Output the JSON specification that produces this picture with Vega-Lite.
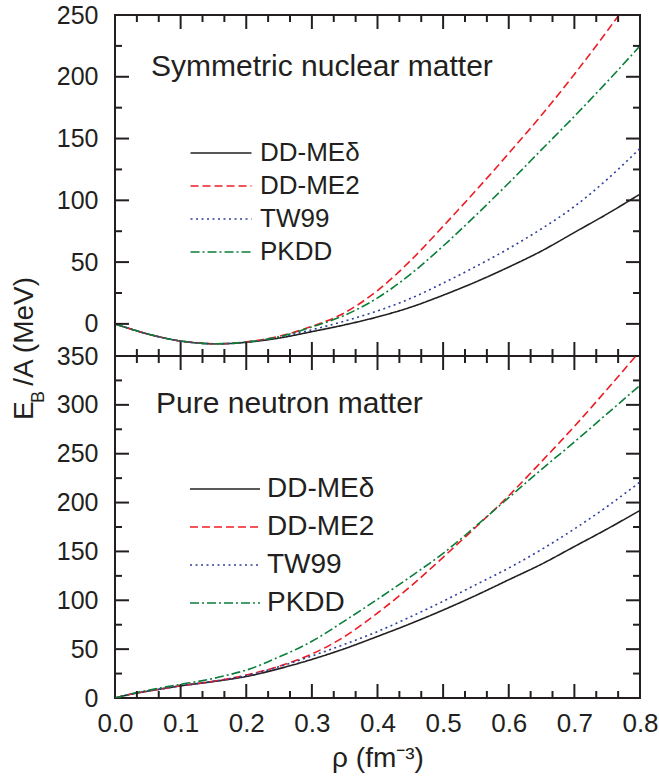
{
  "$schema": "https://vega.github.io/schema/vega-lite/v6.json",
  "padding": {"left": 11, "top": 2, "right": 0, "bottom": 0},
  "background": "white",
  "title": {
    "text": "E\u00a0\u00a0/A (MeV)",
    "orient": "left",
    "anchor": "middle",
    "font": "Liberation Sans",
    "fontSize": 28,
    "fontWeight": "normal",
    "color": "#231f20",
    "offset": -10,
    "dx": 39
  },
  "datasets": {
    "snm": [
      {"r":0,"e":0,"m":"DD-MEδ"},{"r":0.025,"e":-4.3,"m":"DD-MEδ"},{"r":0.05,"e":-8.2,"m":"DD-MEδ"},{"r":0.075,"e":-11.4,"m":"DD-MEδ"},{"r":0.1,"e":-13.9,"m":"DD-MEδ"},{"r":0.125,"e":-15.4,"m":"DD-MEδ"},{"r":0.15,"e":-16.1,"m":"DD-MEδ"},{"r":0.175,"e":-15.9,"m":"DD-MEδ"},{"r":0.2,"e":-14.9,"m":"DD-MEδ"},{"r":0.25,"e":-11.5,"m":"DD-MEδ"},{"r":0.3,"e":-6.3,"m":"DD-MEδ"},{"r":0.35,"e":-0.8,"m":"DD-MEδ"},{"r":0.4,"e":5.6,"m":"DD-MEδ"},{"r":0.45,"e":13.4,"m":"DD-MEδ"},{"r":0.5,"e":23.2,"m":"DD-MEδ"},{"r":0.55,"e":34,"m":"DD-MEδ"},{"r":0.6,"e":46,"m":"DD-MEδ"},{"r":0.65,"e":59,"m":"DD-MEδ"},{"r":0.7,"e":74,"m":"DD-MEδ"},{"r":0.75,"e":89,"m":"DD-MEδ"},{"r":0.8,"e":105,"m":"DD-MEδ"},
      {"r":0,"e":0,"m":"DD-ME2"},{"r":0.025,"e":-4.3,"m":"DD-ME2"},{"r":0.05,"e":-8.2,"m":"DD-ME2"},{"r":0.075,"e":-11.4,"m":"DD-ME2"},{"r":0.1,"e":-13.9,"m":"DD-ME2"},{"r":0.125,"e":-15.4,"m":"DD-ME2"},{"r":0.15,"e":-16.1,"m":"DD-ME2"},{"r":0.175,"e":-15.8,"m":"DD-ME2"},{"r":0.2,"e":-14.6,"m":"DD-ME2"},{"r":0.25,"e":-10,"m":"DD-ME2"},{"r":0.3,"e":-2,"m":"DD-ME2"},{"r":0.35,"e":9,"m":"DD-ME2"},{"r":0.4,"e":27,"m":"DD-ME2"},{"r":0.45,"e":51,"m":"DD-ME2"},{"r":0.5,"e":79,"m":"DD-ME2"},{"r":0.55,"e":108,"m":"DD-ME2"},{"r":0.6,"e":138,"m":"DD-ME2"},{"r":0.65,"e":169,"m":"DD-ME2"},{"r":0.7,"e":202,"m":"DD-ME2"},{"r":0.75,"e":237,"m":"DD-ME2"},{"r":0.8,"e":274,"m":"DD-ME2"},
      {"r":0,"e":0,"m":"TW99"},{"r":0.025,"e":-4.3,"m":"TW99"},{"r":0.05,"e":-8.2,"m":"TW99"},{"r":0.075,"e":-11.4,"m":"TW99"},{"r":0.1,"e":-13.9,"m":"TW99"},{"r":0.125,"e":-15.4,"m":"TW99"},{"r":0.15,"e":-16.1,"m":"TW99"},{"r":0.175,"e":-15.9,"m":"TW99"},{"r":0.2,"e":-14.8,"m":"TW99"},{"r":0.25,"e":-10.8,"m":"TW99"},{"r":0.3,"e":-4.8,"m":"TW99"},{"r":0.35,"e":2.3,"m":"TW99"},{"r":0.4,"e":10.5,"m":"TW99"},{"r":0.45,"e":20.5,"m":"TW99"},{"r":0.5,"e":33,"m":"TW99"},{"r":0.55,"e":46.5,"m":"TW99"},{"r":0.6,"e":61,"m":"TW99"},{"r":0.65,"e":77,"m":"TW99"},{"r":0.7,"e":95,"m":"TW99"},{"r":0.75,"e":117,"m":"TW99"},{"r":0.8,"e":142,"m":"TW99"},
      {"r":0,"e":0,"m":"PKDD"},{"r":0.025,"e":-4.3,"m":"PKDD"},{"r":0.05,"e":-8.2,"m":"PKDD"},{"r":0.075,"e":-11.4,"m":"PKDD"},{"r":0.1,"e":-13.9,"m":"PKDD"},{"r":0.125,"e":-15.4,"m":"PKDD"},{"r":0.15,"e":-16.1,"m":"PKDD"},{"r":0.175,"e":-15.8,"m":"PKDD"},{"r":0.2,"e":-14.7,"m":"PKDD"},{"r":0.25,"e":-10.5,"m":"PKDD"},{"r":0.3,"e":-2.5,"m":"PKDD"},{"r":0.35,"e":7,"m":"PKDD"},{"r":0.4,"e":21,"m":"PKDD"},{"r":0.45,"e":40,"m":"PKDD"},{"r":0.5,"e":63,"m":"PKDD"},{"r":0.55,"e":88,"m":"PKDD"},{"r":0.6,"e":114,"m":"PKDD"},{"r":0.65,"e":141,"m":"PKDD"},{"r":0.7,"e":168,"m":"PKDD"},{"r":0.75,"e":196,"m":"PKDD"},{"r":0.8,"e":225,"m":"PKDD"}
    ],
    "pnm": [
      {"r":0,"e":0,"m":"DD-MEδ"},{"r":0.025,"e":4,"m":"DD-MEδ"},{"r":0.05,"e":7,"m":"DD-MEδ"},{"r":0.075,"e":9.8,"m":"DD-MEδ"},{"r":0.1,"e":12.4,"m":"DD-MEδ"},{"r":0.125,"e":14.6,"m":"DD-MEδ"},{"r":0.15,"e":16.8,"m":"DD-MEδ"},{"r":0.175,"e":19.2,"m":"DD-MEδ"},{"r":0.2,"e":22,"m":"DD-MEδ"},{"r":0.25,"e":30,"m":"DD-MEδ"},{"r":0.3,"e":39.5,"m":"DD-MEδ"},{"r":0.35,"e":50.5,"m":"DD-MEδ"},{"r":0.4,"e":63,"m":"DD-MEδ"},{"r":0.45,"e":76,"m":"DD-MEδ"},{"r":0.5,"e":90,"m":"DD-MEδ"},{"r":0.55,"e":105,"m":"DD-MEδ"},{"r":0.6,"e":121,"m":"DD-MEδ"},{"r":0.65,"e":137,"m":"DD-MEδ"},{"r":0.7,"e":155,"m":"DD-MEδ"},{"r":0.75,"e":173,"m":"DD-MEδ"},{"r":0.8,"e":192,"m":"DD-MEδ"},
      {"r":0,"e":0,"m":"DD-ME2"},{"r":0.025,"e":4,"m":"DD-ME2"},{"r":0.05,"e":7,"m":"DD-ME2"},{"r":0.075,"e":9.8,"m":"DD-ME2"},{"r":0.1,"e":12.5,"m":"DD-ME2"},{"r":0.125,"e":14.8,"m":"DD-ME2"},{"r":0.15,"e":17.2,"m":"DD-ME2"},{"r":0.175,"e":20,"m":"DD-ME2"},{"r":0.2,"e":23.5,"m":"DD-ME2"},{"r":0.25,"e":32.5,"m":"DD-ME2"},{"r":0.3,"e":45,"m":"DD-ME2"},{"r":0.35,"e":63,"m":"DD-ME2"},{"r":0.4,"e":87,"m":"DD-ME2"},{"r":0.45,"e":114,"m":"DD-ME2"},{"r":0.5,"e":144,"m":"DD-ME2"},{"r":0.55,"e":175,"m":"DD-ME2"},{"r":0.6,"e":207,"m":"DD-ME2"},{"r":0.65,"e":242,"m":"DD-ME2"},{"r":0.7,"e":278,"m":"DD-ME2"},{"r":0.75,"e":316,"m":"DD-ME2"},{"r":0.8,"e":355,"m":"DD-ME2"},
      {"r":0,"e":0,"m":"TW99"},{"r":0.025,"e":4,"m":"TW99"},{"r":0.05,"e":7,"m":"TW99"},{"r":0.075,"e":9.8,"m":"TW99"},{"r":0.1,"e":12.5,"m":"TW99"},{"r":0.125,"e":14.8,"m":"TW99"},{"r":0.15,"e":17.2,"m":"TW99"},{"r":0.175,"e":19.8,"m":"TW99"},{"r":0.2,"e":23,"m":"TW99"},{"r":0.25,"e":32,"m":"TW99"},{"r":0.3,"e":43,"m":"TW99"},{"r":0.35,"e":55,"m":"TW99"},{"r":0.4,"e":68,"m":"TW99"},{"r":0.45,"e":83,"m":"TW99"},{"r":0.5,"e":99,"m":"TW99"},{"r":0.55,"e":116,"m":"TW99"},{"r":0.6,"e":133,"m":"TW99"},{"r":0.65,"e":152,"m":"TW99"},{"r":0.7,"e":173,"m":"TW99"},{"r":0.75,"e":196,"m":"TW99"},{"r":0.8,"e":221,"m":"TW99"},
      {"r":0,"e":0,"m":"PKDD"},{"r":0.025,"e":4.3,"m":"PKDD"},{"r":0.05,"e":7.8,"m":"PKDD"},{"r":0.075,"e":11,"m":"PKDD"},{"r":0.1,"e":14,"m":"PKDD"},{"r":0.125,"e":16.8,"m":"PKDD"},{"r":0.15,"e":20,"m":"PKDD"},{"r":0.175,"e":24,"m":"PKDD"},{"r":0.2,"e":28.5,"m":"PKDD"},{"r":0.25,"e":42,"m":"PKDD"},{"r":0.3,"e":58,"m":"PKDD"},{"r":0.35,"e":79,"m":"PKDD"},{"r":0.4,"e":101,"m":"PKDD"},{"r":0.45,"e":124,"m":"PKDD"},{"r":0.5,"e":148,"m":"PKDD"},{"r":0.55,"e":176,"m":"PKDD"},{"r":0.6,"e":205,"m":"PKDD"},{"r":0.65,"e":234,"m":"PKDD"},{"r":0.7,"e":262,"m":"PKDD"},{"r":0.75,"e":291,"m":"PKDD"},{"r":0.8,"e":320,"m":"PKDD"}
    ]
  },
  "spacing": 0,
  "bounds": "flush",
  "vconcat": [
    {
      "width": 525,
      "height": 341,
      "layer": [
        {
          "data": {"name": "snm"},
          "mark": {"type": "line", "clip": true, "strokeWidth": 1.6, "interpolate": "monotone"},
          "encoding": {
            "x": {"field": "r", "type": "quantitative", "scale": {"domain": [0, 0.8], "nice": false, "zero": false},
                  "axis": {"orient": "bottom", "values": [0,0.1,0.2,0.3,0.4,0.5,0.6,0.7,0.8], "labels": false, "ticks": false, "domain": false, "grid": false, "title": null}},
            "y": {"field": "e", "type": "quantitative", "scale": {"domain": [-26, 250], "nice": false, "zero": false},
                  "axis": {"orient": "left", "values": [0,50,100,150,200,250], "ticks": false, "domain": false, "grid": false, "labelPadding": 17, "title": null}},
            "color": {"field": "m", "type": "nominal",
                      "scale": {"domain": ["DD-MEδ","DD-ME2","TW99","PKDD"], "range": ["#231f20","#ed1c24","#2e3f9e","#0b7e3a"]},
                      "legend": {"orient": "none", "legendX": 93, "legendY": 125, "title": null, "symbolType": "M-3,0H3", "symbolSize": 413, "symbolStrokeWidth": 1.6, "labelFont": "Liberation Sans", "labelFontSize": 26, "labelColor": "#231f20", "labelOffset": 26, "rowPadding": 7, "padding": 0}},
            "strokeDash": {"field": "m", "type": "nominal",
                      "scale": {"domain": ["DD-MEδ","DD-ME2","TW99","PKDD"], "range": [[1,0],[8,4],[2,3.5],[9,3,2,3]]},
                      "legend": {"orient": "none", "legendX": 93, "legendY": 125, "title": null, "symbolType": "M-3,0H3", "symbolSize": 413, "symbolStrokeWidth": 1.6, "labelFont": "Liberation Sans", "labelFontSize": 26, "labelColor": "#231f20", "labelOffset": 26, "rowPadding": 7, "padding": 0}}
          }
        },
        {
          "data": {"values": [{"v":0.1},{"v":0.2},{"v":0.3},{"v":0.4},{"v":0.5},{"v":0.6},{"v":0.7}]},
          "layer": [
            {"mark": {"type": "rule", "strokeWidth": 2, "color": "#231f20"},
             "encoding": {"x": {"field": "v", "type": "quantitative", "scale": {"domain": [0, 0.8], "nice": false, "zero": false}, "axis": null},
                          "y": {"datum": -26, "type": "quantitative", "scale": {"domain": [-26, 250], "nice": false, "zero": false}, "axis": null},
                          "y2": {"datum": -14.67}}},
            {"mark": {"type": "rule", "strokeWidth": 2, "color": "#231f20"},
             "encoding": {"x": {"field": "v", "type": "quantitative", "scale": {"domain": [0, 0.8], "nice": false, "zero": false}, "axis": null},
                          "y": {"datum": 250, "type": "quantitative", "scale": {"domain": [-26, 250], "nice": false, "zero": false}, "axis": null},
                          "y2": {"datum": 238.67}}}
          ]
        },
        {
          "data": {"values": [{"v":0.033333},{"v":0.066667},{"v":0.133333},{"v":0.166667},{"v":0.233333},{"v":0.266667},{"v":0.333333},{"v":0.366667},{"v":0.433333},{"v":0.466667},{"v":0.533333},{"v":0.566667},{"v":0.633333},{"v":0.666667},{"v":0.733333},{"v":0.766667}]},
          "layer": [
            {"mark": {"type": "rule", "strokeWidth": 2, "color": "#231f20"},
             "encoding": {"x": {"field": "v", "type": "quantitative", "scale": {"domain": [0, 0.8], "nice": false, "zero": false}, "axis": null},
                          "y": {"datum": -26, "type": "quantitative", "scale": {"domain": [-26, 250], "nice": false, "zero": false}, "axis": null},
                          "y2": {"datum": -20.33}}},
            {"mark": {"type": "rule", "strokeWidth": 2, "color": "#231f20"},
             "encoding": {"x": {"field": "v", "type": "quantitative", "scale": {"domain": [0, 0.8], "nice": false, "zero": false}, "axis": null},
                          "y": {"datum": 250, "type": "quantitative", "scale": {"domain": [-26, 250], "nice": false, "zero": false}, "axis": null},
                          "y2": {"datum": 244.33}}}
          ]
        },
        {
          "data": {"values": [{"v":0},{"v":50},{"v":100},{"v":150},{"v":200}]},
          "layer": [
            {"mark": {"type": "rule", "strokeWidth": 2, "color": "#231f20"},
             "encoding": {"y": {"field": "v", "type": "quantitative", "scale": {"domain": [-26, 250], "nice": false, "zero": false}, "axis": null},
                          "x": {"datum": 0, "type": "quantitative", "scale": {"domain": [0, 0.8], "nice": false, "zero": false}, "axis": null},
                          "x2": {"datum": 0.02133}}},
            {"mark": {"type": "rule", "strokeWidth": 2, "color": "#231f20"},
             "encoding": {"y": {"field": "v", "type": "quantitative", "scale": {"domain": [-26, 250], "nice": false, "zero": false}, "axis": null},
                          "x": {"datum": 0.8, "type": "quantitative", "scale": {"domain": [0, 0.8], "nice": false, "zero": false}, "axis": null},
                          "x2": {"datum": 0.77867}}}
          ]
        },
        {
          "data": {"values": [{"v":25},{"v":75},{"v":125},{"v":175},{"v":225}]},
          "layer": [
            {"mark": {"type": "rule", "strokeWidth": 2, "color": "#231f20"},
             "encoding": {"y": {"field": "v", "type": "quantitative", "scale": {"domain": [-26, 250], "nice": false, "zero": false}, "axis": null},
                          "x": {"datum": 0, "type": "quantitative", "scale": {"domain": [0, 0.8], "nice": false, "zero": false}, "axis": null},
                          "x2": {"datum": 0.01067}}},
            {"mark": {"type": "rule", "strokeWidth": 2, "color": "#231f20"},
             "encoding": {"y": {"field": "v", "type": "quantitative", "scale": {"domain": [-26, 250], "nice": false, "zero": false}, "axis": null},
                          "x": {"datum": 0.8, "type": "quantitative", "scale": {"domain": [0, 0.8], "nice": false, "zero": false}, "axis": null},
                          "x2": {"datum": 0.78933}}}
          ]
        },
        {
          "data": {"values": [{"t": "Symmetric nuclear matter"}]},
          "mark": {"type": "text", "align": "left", "baseline": "alphabetic", "font": "Liberation Sans", "fontSize": 30, "color": "#231f20"},
          "encoding": {
            "text": {"field": "t"},
            "x": {"datum": 0.055, "type": "quantitative", "scale": {"domain": [0, 0.8], "nice": false, "zero": false}, "axis": null},
            "y": {"datum": 201, "type": "quantitative", "scale": {"domain": [-26, 250], "nice": false, "zero": false}, "axis": null}
          }
        }
      ],
      "resolve": {"axis": {"x": "independent", "y": "independent"}}
    },
    {
      "width": 525,
      "height": 342,
      "title": {"text": "B", "orient": "left", "anchor": "middle", "frame": "group", "font": "Liberation Sans", "fontSize": 18, "fontWeight": "normal", "color": "#231f20", "offset": 8, "dx": 130},
      "layer": [
        {
          "data": {"name": "pnm"},
          "mark": {"type": "line", "clip": true, "strokeWidth": 1.6, "interpolate": "monotone"},
          "encoding": {
            "x": {"field": "r", "type": "quantitative", "scale": {"domain": [0, 0.8], "nice": false, "zero": false},
                  "axis": {"orient": "bottom", "values": [0,0.1,0.2,0.3,0.4,0.5,0.6,0.7,0.8], "format": ".1f",
                           "ticks": false, "domain": false, "grid": false, "labelPadding": 12, "labelFontSize": 26,
                           "title": "ρ (fm⁻³)", "titleFontSize": 28, "titlePadding": 8}},
            "y": {"field": "e", "type": "quantitative", "scale": {"domain": [0, 350], "nice": false, "zero": false},
                  "axis": {"orient": "left", "values": [0,50,100,150,200,250,300,350], "ticks": false, "domain": false, "grid": false, "labelPadding": 17, "title": null}},
            "color": {"field": "m", "type": "nominal",
                      "scale": {"domain": ["DD-MEδ","DD-ME2","TW99","PKDD"], "range": ["#231f20","#ed1c24","#2e3f9e","#0b7e3a"]},
                      "legend": {"orient": "none", "legendX": 96, "legendY": 119, "title": null, "symbolType": "M-3,0H3", "symbolSize": 544, "symbolStrokeWidth": 1.6, "labelFont": "Liberation Sans", "labelFontSize": 28, "labelColor": "#231f20", "labelOffset": 28, "rowPadding": 10, "padding": 0}},
            "strokeDash": {"field": "m", "type": "nominal",
                      "scale": {"domain": ["DD-MEδ","DD-ME2","TW99","PKDD"], "range": [[1,0],[8,4],[2,3.5],[9,3,2,3]]},
                      "legend": {"orient": "none", "legendX": 96, "legendY": 119, "title": null, "symbolType": "M-3,0H3", "symbolSize": 544, "symbolStrokeWidth": 1.6, "labelFont": "Liberation Sans", "labelFontSize": 28, "labelColor": "#231f20", "labelOffset": 28, "rowPadding": 10, "padding": 0}}
          }
        },
        {
          "data": {"values": [{"v":0.1},{"v":0.2},{"v":0.3},{"v":0.4},{"v":0.5},{"v":0.6},{"v":0.7}]},
          "layer": [
            {"mark": {"type": "rule", "strokeWidth": 2, "color": "#231f20"},
             "encoding": {"x": {"field": "v", "type": "quantitative", "scale": {"domain": [0, 0.8], "nice": false, "zero": false}, "axis": null},
                          "y": {"datum": 0, "type": "quantitative", "scale": {"domain": [0, 350], "nice": false, "zero": false}, "axis": null},
                          "y2": {"datum": 14.33}}},
            {"mark": {"type": "rule", "strokeWidth": 2, "color": "#231f20"},
             "encoding": {"x": {"field": "v", "type": "quantitative", "scale": {"domain": [0, 0.8], "nice": false, "zero": false}, "axis": null},
                          "y": {"datum": 350, "type": "quantitative", "scale": {"domain": [0, 350], "nice": false, "zero": false}, "axis": null},
                          "y2": {"datum": 335.67}}}
          ]
        },
        {
          "data": {"values": [{"v":0.033333},{"v":0.066667},{"v":0.133333},{"v":0.166667},{"v":0.233333},{"v":0.266667},{"v":0.333333},{"v":0.366667},{"v":0.433333},{"v":0.466667},{"v":0.533333},{"v":0.566667},{"v":0.633333},{"v":0.666667},{"v":0.733333},{"v":0.766667}]},
          "layer": [
            {"mark": {"type": "rule", "strokeWidth": 2, "color": "#231f20"},
             "encoding": {"x": {"field": "v", "type": "quantitative", "scale": {"domain": [0, 0.8], "nice": false, "zero": false}, "axis": null},
                          "y": {"datum": 0, "type": "quantitative", "scale": {"domain": [0, 350], "nice": false, "zero": false}, "axis": null},
                          "y2": {"datum": 7.16}}},
            {"mark": {"type": "rule", "strokeWidth": 2, "color": "#231f20"},
             "encoding": {"x": {"field": "v", "type": "quantitative", "scale": {"domain": [0, 0.8], "nice": false, "zero": false}, "axis": null},
                          "y": {"datum": 350, "type": "quantitative", "scale": {"domain": [0, 350], "nice": false, "zero": false}, "axis": null},
                          "y2": {"datum": 342.84}}}
          ]
        },
        {
          "data": {"values": [{"v":50},{"v":100},{"v":150},{"v":200},{"v":250},{"v":300}]},
          "layer": [
            {"mark": {"type": "rule", "strokeWidth": 2, "color": "#231f20"},
             "encoding": {"y": {"field": "v", "type": "quantitative", "scale": {"domain": [0, 350], "nice": false, "zero": false}, "axis": null},
                          "x": {"datum": 0, "type": "quantitative", "scale": {"domain": [0, 0.8], "nice": false, "zero": false}, "axis": null},
                          "x2": {"datum": 0.02133}}},
            {"mark": {"type": "rule", "strokeWidth": 2, "color": "#231f20"},
             "encoding": {"y": {"field": "v", "type": "quantitative", "scale": {"domain": [0, 350], "nice": false, "zero": false}, "axis": null},
                          "x": {"datum": 0.8, "type": "quantitative", "scale": {"domain": [0, 0.8], "nice": false, "zero": false}, "axis": null},
                          "x2": {"datum": 0.77867}}}
          ]
        },
        {
          "data": {"values": [{"v":25},{"v":75},{"v":125},{"v":175},{"v":225},{"v":275},{"v":325}]},
          "layer": [
            {"mark": {"type": "rule", "strokeWidth": 2, "color": "#231f20"},
             "encoding": {"y": {"field": "v", "type": "quantitative", "scale": {"domain": [0, 350], "nice": false, "zero": false}, "axis": null},
                          "x": {"datum": 0, "type": "quantitative", "scale": {"domain": [0, 0.8], "nice": false, "zero": false}, "axis": null},
                          "x2": {"datum": 0.01067}}},
            {"mark": {"type": "rule", "strokeWidth": 2, "color": "#231f20"},
             "encoding": {"y": {"field": "v", "type": "quantitative", "scale": {"domain": [0, 350], "nice": false, "zero": false}, "axis": null},
                          "x": {"datum": 0.8, "type": "quantitative", "scale": {"domain": [0, 0.8], "nice": false, "zero": false}, "axis": null},
                          "x2": {"datum": 0.78933}}}
          ]
        },
        {
          "data": {"values": [{"t": "Pure neutron matter"}]},
          "mark": {"type": "text", "align": "left", "baseline": "alphabetic", "font": "Liberation Sans", "fontSize": 30, "color": "#231f20"},
          "encoding": {
            "text": {"field": "t"},
            "x": {"datum": 0.0625, "type": "quantitative", "scale": {"domain": [0, 0.8], "nice": false, "zero": false}, "axis": null},
            "y": {"datum": 292, "type": "quantitative", "scale": {"domain": [0, 350], "nice": false, "zero": false}, "axis": null}
          }
        }
      ],
      "resolve": {"axis": {"x": "independent", "y": "independent"}}
    }
  ],
  "resolve": {
    "scale": {"x": "independent", "y": "independent", "color": "independent", "strokeDash": "independent"},
    "legend": {"color": "independent", "strokeDash": "independent"}
  },
  "config": {
    "view": {"stroke": "#231f20", "strokeWidth": 2},
    "concat": {"spacing": 0},
    "axis": {
      "labelFont": "Liberation Sans",
      "labelFontSize": 25,
      "labelColor": "#231f20",
      "labelFlush": false,
      "labelOverlap": false,
      "titleFont": "Liberation Sans",
      "titleFontWeight": "normal",
      "titleColor": "#231f20"
    }
  }
}
